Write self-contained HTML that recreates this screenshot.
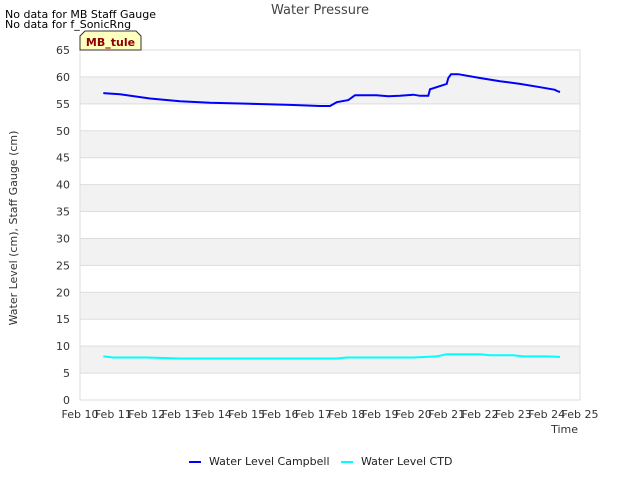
<!DOCTYPE html>
<html><head><meta charset="utf-8"><style>
body{margin:0;background:#fff;font-family:"Liberation Sans","DejaVu Sans",sans-serif}
svg text{font-family:"DejaVu Sans","Liberation Sans",sans-serif}
</style></head><body>
<svg id="c" width="640" height="480" xmlns="http://www.w3.org/2000/svg">
<text x="5" y="18" font-size="11">No data for MB Staff Gauge</text>
<text x="5" y="28" font-size="11">No data for f_SonicRng</text>
<text x="320" y="14" font-size="13" fill="#444" text-anchor="middle">Water Pressure</text>
<g id="plot"></g>
<text transform="translate(17,228) rotate(-90)" font-size="11" fill="#333" text-anchor="middle">Water Level (cm), Staff Gauge (cm)</text>
<text x="578" y="433" font-size="11" fill="#333" text-anchor="end">Time</text>
<g>
<line x1="189" y1="462" x2="201" y2="462" stroke="#0000ff" stroke-width="2"/>
<text x="209" y="465" font-size="11" fill="#222">Water Level Campbell</text>
<line x1="341" y1="462" x2="353" y2="462" stroke="#00ffff" stroke-width="2"/>
<text x="361" y="465" font-size="11" fill="#222">Water Level CTD</text>
</g>
<g>
<path d="M80,50 L80,36 L85,31 L136,31 L141,36 L141,50 Z" fill="#ffffc0" stroke="#333" stroke-width="1"/>
<text x="110.5" y="46" font-size="11" font-weight="bold" fill="#8b0000" text-anchor="middle">MB_tule</text>
</g>
</svg>
<script>
const xTicks=[10,11,12,13,14,15,16,17,18,19,20,21,22,23,24,25];
const yTicks=[0,5,10,15,20,25,30,35,40,45,50,55,60,65];
const campbellT=[10.7,11.2,12.1,13,13.9,15.1,16.3,17.2,17.5,17.7,18.05,18.25,18.9,19.25,19.6,20,20.2,20.45,20.5,20.8,21,21.05,21.13,21.35,22,22.6,23.2,23.8,24.25,24.3,24.4];
const campbellV=[57,56.8,56,55.5,55.2,55,54.8,54.6,54.6,55.3,55.7,56.6,56.6,56.4,56.5,56.7,56.5,56.5,57.7,58.3,58.7,59.8,60.5,60.5,59.8,59.2,58.7,58.1,57.6,57.4,57.2];
const ctdT=[10.7,11,12,13,14,15,16,17,17.7,18,19,20,20.7,21,22,22.3,23,23.3,24,24.4];
const ctdV=[8.1,7.9,7.9,7.7,7.7,7.7,7.7,7.7,7.7,7.9,7.9,7.9,8.1,8.5,8.5,8.3,8.3,8.1,8.1,8];
const X0=80,X1=580,Y0=400,Y1=50;
const sx=t=>X0+(t-10)/15*(X1-X0);
const sy=v=>Y0-v/65*(Y0-Y1);
const NS="http://www.w3.org/2000/svg";
const g=document.getElementById('plot');
function mk(tag,attrs){const e=document.createElementNS(NS,tag);for(const k in attrs)e.setAttribute(k,attrs[k]);g.appendChild(e);return e;}
for(let i=0;i<yTicks.length-1;i++){
 if(i%2===1){const r=mk('rect',{x:X0,y:sy(yTicks[i+1]),width:X1-X0,height:sy(yTicks[i])-sy(yTicks[i+1]),fill:'#f2f2f2'});
 
 }
}
yTicks.forEach(v=>{
 const l=mk('line',{x1:X0,x2:X1,y1:sy(v),y2:sy(v),stroke:'#ddd'});
 
 
 const t=mk('text',{x:X0-10,y:sy(v)+4,'font-size':11,fill:'#333','text-anchor':'end'});
 t.textContent=v;
 
 
});
const fr=mk('rect',{x:X0,y:Y1,width:X1-X0,height:Y0-Y1,fill:'none',stroke:'#ddd'});


xTicks.forEach(d=>{
 const t=mk('text',{x:sx(d),y:Y0+18,'font-size':11,fill:'#333','text-anchor':'middle'});
 t.textContent='Feb '+d;
 
 
});
function step(T,V){let d='';for(let i=0;i<T.length;i++){d+=(i?'L':'M')+sx(T[i]).toFixed(1)+','+sy(V[i]).toFixed(1);}return d;}
const p1=mk('path',{d:step(campbellT,campbellV),fill:'none',stroke:'#0000ff','stroke-width':2});


const p2=mk('path',{d:step(ctdT,ctdV),fill:'none',stroke:'#00ffff','stroke-width':2});


</script>
</body></html>
